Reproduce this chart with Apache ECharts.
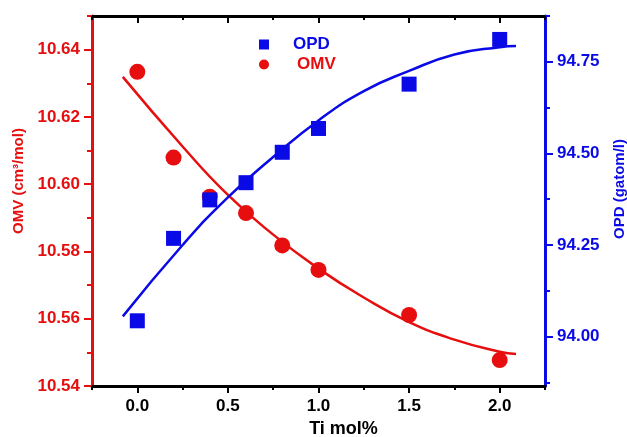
<!DOCTYPE html>
<html>
<head>
<meta charset="utf-8">
<script src="https://cdn.jsdelivr.net/npm/echarts@6/dist/echarts.min.js"></script>
<style>
html,body{margin:0;padding:0;background:#fff;}
#chart{width:627px;height:437px;}
</style>
</head>
<body>
<div id="chart"></div>
<script>
// measured points
var tiMol = [0, 0.2, 0.4, 0.6, 0.8, 1.0, 1.5, 2.0];
var omvData = [10.6334, 10.6079, 10.5963, 10.5914, 10.5818, 10.5745, 10.5611, 10.5477];
var opdData = [94.043, 94.268, 94.373, 94.420, 94.503, 94.568, 94.689, 94.811];

// fitted curves
var fitX = [-0.08, 0.25, 0.5, 0.75, 1.0, 1.25, 1.5, 1.75, 2.0, 2.09];
var omvFit = [10.6319, 10.6112, 10.5968, 10.585, 10.5749, 10.5663, 10.559, 10.5538, 10.5502, 10.5495];
var opdFit = [94.055, 94.25, 94.38, 94.49, 94.59, 94.67, 94.725, 94.77, 94.79, 94.793];

// ticks
var xMajor = [0, 0.5, 1.0, 1.5, 2.0];
var xMinor = [-0.25, 0.25, 0.75, 1.25, 1.75, 2.25];
var omvMajor = [10.54, 10.56, 10.58, 10.60, 10.62, 10.64];
var omvMinor = [10.55, 10.57, 10.59, 10.61, 10.63, 10.65];
var opdMajor = [94.00, 94.25, 94.50, 94.75];
var opdMinor = [93.875, 94.125, 94.375, 94.625, 94.875];

var RED = '#e60e0e';
var BLUE = '#0a0ae6';
var FONT = 'Liberation Sans';

var myChart = echarts.init(document.getElementById('chart'));

function zip(xs, ys) {
    var out = [];
    for (var i = 0; i < xs.length; i++) {
        out.push([xs[i], ys[i]]);
    }
    return out;
}

function tickAxis(pos, min, max, vals, len, inside, color) {
    return {
        type: 'value',
        position: pos,
        min: min,
        max: max,
        axisLine: { show: false, onZero: false },
        axisTick: { show: true, inside: inside, length: len, customValues: vals,
            lineStyle: { color: color, width: 2 } },
        axisLabel: { show: false },
        splitLine: { show: false }
    };
}

var labelStyle = { fontFamily: FONT, fontWeight: 'bold', fontSize: 17 };

option = {
    backgroundColor: '#fff',
    animation: false,
    grid: { left: 92, right: 82, top: 16, bottom: 51, outerBoundsMode: 'none', containLabel: false },
    legend: {
        orient: 'vertical',
        left: 259,
        top: 36,
        padding: 0,
        itemWidth: 10,
        itemHeight: 10,
        itemGap: 3,
        selectedMode: false,
        textStyle: { fontFamily: FONT, fontWeight: 'bold', fontSize: 17 },
        data: [
            { name: 'OPD', icon: 'rect', textStyle: { color: BLUE, padding: [0, 0, 0, 19] } },
            { name: 'OMV', icon: 'circle', textStyle: { color: RED, padding: [0, 0, 0, 23] } }
        ]
    },
    xAxis: [{
        type: 'value',
        position: 'bottom',
        min: -0.25,
        max: 2.25,
        name: 'Ti mol%',
        nameLocation: 'middle',
        nameGap: 31,
        nameTextStyle: { fontFamily: FONT, fontWeight: 'bold', fontSize: 18, color: '#000',
            padding: [0, 0, 0, 50] },
        axisLine: { show: true, onZero: false, lineStyle: { color: '#000', width: 3 } },
        axisTick: { show: true, length: 7, customValues: xMajor, lineStyle: { color: '#000', width: 2 } },
        axisLabel: Object.assign({ color: '#000', margin: 12, customValues: xMajor,
            formatter: function (v) { return v.toFixed(1); } }, labelStyle),
        splitLine: { show: false }
    },
    tickAxis('bottom', -0.25, 2.25, xMinor, 4, false, '#000'),
    {
        type: 'value',
        position: 'top',
        min: -0.25,
        max: 2.25,
        axisLine: { show: true, onZero: false, lineStyle: { color: '#000', width: 3 } },
        axisTick: { show: true, inside: true, length: 7, customValues: xMajor, lineStyle: { color: '#000', width: 2 } },
        axisLabel: { show: false },
        splitLine: { show: false }
    },
    tickAxis('top', -0.25, 2.25, xMinor, 4, true, '#000')
    ],
    yAxis: [{
        type: 'value',
        position: 'left',
        min: 10.54,
        max: 10.65,
        name: 'OMV (cm³/mol)',
        nameLocation: 'middle',
        nameGap: 61,
        nameTextStyle: { fontFamily: FONT, fontWeight: 'bold', fontSize: 15, color: RED,
            padding: [0, 0, 0, 40] },
        axisLine: { show: true, onZero: false, lineStyle: { color: RED, width: 3 } },
        axisTick: { show: true, length: 8, customValues: omvMajor, lineStyle: { color: RED, width: 2 } },
        axisLabel: Object.assign({ color: RED, margin: 12, customValues: omvMajor,
            formatter: function (v) { return v.toFixed(2); } }, labelStyle),
        splitLine: { show: false }
    },
    tickAxis('left', 10.54, 10.65, omvMinor, 5, false, RED),
    {
        type: 'value',
        position: 'right',
        min: 93.865,
        max: 94.875,
        name: 'OPD (gatom/l)',
        nameLocation: 'middle',
        nameGap: 67,
        nameTextStyle: { fontFamily: FONT, fontWeight: 'bold', fontSize: 15, color: BLUE,
            padding: [0, 0, 0, 24] },
        axisLine: { show: true, onZero: false, lineStyle: { color: BLUE, width: 3 } },
        axisTick: { show: true, length: 8, customValues: opdMajor, lineStyle: { color: BLUE, width: 2 } },
        axisLabel: Object.assign({ color: BLUE, margin: 12, customValues: opdMajor,
            formatter: function (v) { return v.toFixed(2); } }, labelStyle),
        splitLine: { show: false }
    },
    tickAxis('right', 93.865, 94.875, opdMinor, 5, false, BLUE)
    ],
    series: [{
        name: 'OMV fit',
        type: 'line',
        xAxisIndex: 0,
        yAxisIndex: 0,
        smooth: true,
        showSymbol: false,
        symbol: 'none',
        lineStyle: { color: RED, width: 2.5 },
        data: zip(fitX, omvFit)
    }, {
        name: 'OMV',
        type: 'scatter',
        xAxisIndex: 0,
        yAxisIndex: 0,
        symbol: 'circle',
        symbolSize: 16,
        itemStyle: { color: RED, opacity: 1 },
        data: zip(tiMol, omvData)
    }, {
        name: 'OPD fit',
        type: 'line',
        xAxisIndex: 0,
        yAxisIndex: 2,
        smooth: true,
        showSymbol: false,
        symbol: 'none',
        lineStyle: { color: BLUE, width: 2.5 },
        data: zip(fitX, opdFit)
    }, {
        name: 'OPD',
        type: 'scatter',
        xAxisIndex: 0,
        yAxisIndex: 2,
        symbol: 'rect',
        symbolSize: 15,
        itemStyle: { color: BLUE, opacity: 1 },
        data: zip(tiMol, opdData)
    }]
};

myChart.setOption(option);
</script>
</body>
</html>
